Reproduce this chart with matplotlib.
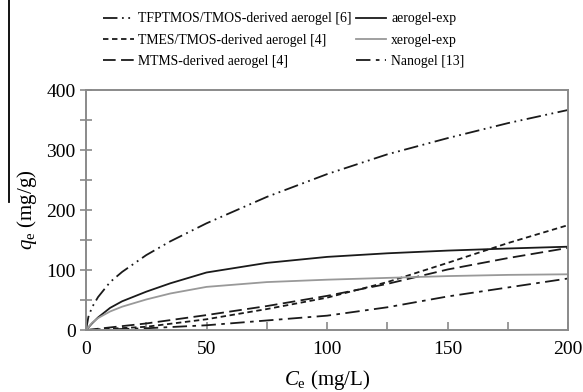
import matplotlib
matplotlib.use("Agg")
import matplotlib.pyplot as plt
from matplotlib.lines import Line2D

plt.rcParams['font.family'] = ['Liberation Serif', 'DejaVu Serif']
plt.rcParams['mathtext.fontset'] = 'custom'
plt.rcParams['mathtext.rm'] = 'Liberation Serif'
plt.rcParams['mathtext.it'] = 'Liberation Serif:italic'

# Data
c_tfp = [0, 1, 2.5, 5, 10, 15, 25, 35, 50, 75, 100, 125, 150, 175, 200]
q_tfp = [0, 22, 38, 55, 80, 97, 125, 148, 178, 222, 260, 293, 320, 345, 367]

c_aer = [0, 2.5, 5, 10, 15, 25, 35, 50, 75, 100, 125, 150, 175, 200]
q_aer = [0, 11, 21, 37, 48, 64, 78, 96, 112, 122, 128, 132.5, 136, 139]

c_xer = [0, 2.5, 5, 10, 15, 25, 35, 50, 75, 100, 125, 150, 175, 200]
q_xer = [0, 12, 20, 31, 39, 51, 61, 72, 80, 84, 87, 90, 92, 93]

c_tmes = [0, 25, 50, 75, 100, 125, 150, 175, 200]
q_tmes = [0, 5.5, 18, 35, 54, 80, 112, 145, 175]

c_mtms = [0, 25, 50, 75, 100, 125, 150, 175, 200]
q_mtms = [0, 11, 25, 40, 57, 77, 101, 120, 137]

c_nano = [0, 25, 50, 75, 100, 125, 150, 175, 200]
q_nano = [0, 3, 8, 16, 24, 38, 56, 71, 86]

labels = ["TFPTMOS/TMOS-derived aerogel [6]", "TMES/TMOS-derived aerogel [4]",
          "MTMS-derived aerogel [4]", "aerogel-exp", "xerogel-exp", "Nanogel [13]"]

fig = plt.figure(figsize=(5.83, 3.92), dpi=100)
ax = fig.add_axes([0.1475, 0.158, 0.827, 0.612])

dark = '#1a1a1a'
lw = 1.3
ax.plot(c_tfp, q_tfp, color=dark, lw=lw, linestyle=(0, (8, 2.5, 1, 2.5, 1, 2.5)), label=labels[0])
ax.plot(c_tmes, q_tmes, color=dark, lw=lw, linestyle=(0, (3, 2)), label=labels[1])
ax.plot(c_mtms, q_mtms, color=dark, lw=lw, linestyle=(0, (7, 3)), label=labels[2])
ax.plot(c_aer, q_aer, color=dark, lw=lw, linestyle='-', label=labels[3])
ax.plot(c_xer, q_xer, color='#999999', lw=lw, linestyle='-', label=labels[4])
ax.plot(c_nano, q_nano, color=dark, lw=lw, linestyle=(0, (8, 3, 2, 3)), label=labels[5])

ax.set_xlim(0, 200)
ax.set_ylim(0, 400)
ax.set_xticks([0, 50, 100, 150, 200])
ax.set_xticks([25, 75, 125, 175], minor=True)
ax.set_yticks([0, 100, 200, 300, 400])
ax.set_yticks([50, 150, 250, 350], minor=True)

spine_col = '#8a8a8a'
for s in ax.spines.values():
    s.set_color(spine_col)
    s.set_linewidth(1.4)

ax.tick_params(axis='x', which='both', direction='in', length=6, width=1.2, color=spine_col,
               labelsize=14, pad=8, top=False)
ax.tick_params(axis='y', which='both', direction='inout', length=9, width=1.2, color=spine_col,
               labelsize=14, pad=3, right=False)

ax.set_xlabel(r'$\mathit{C}_{\mathrm{e}}$ (mg/L)', fontsize=15, labelpad=7)
ax.set_ylabel(r'$\mathit{q}_{\mathrm{e}}$ (mg/g)', fontsize=15, labelpad=5)

leg = fig.legend(loc='upper center', bbox_to_anchor=(0.487, 1.0), ncol=2, frameon=False,
                 fontsize=9.9, handlelength=2.2, handletextpad=0.35, columnspacing=0.3,
                 labelspacing=0.6, borderaxespad=0.5)

# stray vertical line at the left edge of the reference image
fig.add_artist(Line2D([0.0154, 0.0154], [1.0, 0.485], transform=fig.transFigure,
                      color='black', lw=1.3))

fig.savefig('out.png', dpi=100)
